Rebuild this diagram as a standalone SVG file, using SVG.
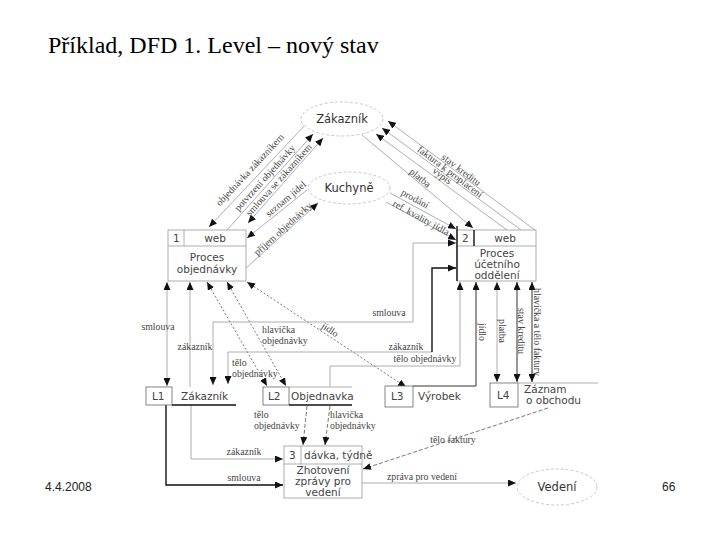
<svg xmlns="http://www.w3.org/2000/svg" width="720" height="540" viewBox="0 0 720 540">
<defs>
<marker id="ah" markerUnits="userSpaceOnUse" markerWidth="9" markerHeight="7" refX="8" refY="3.5" orient="auto-start-reverse"><path d="M0,0 L8,3.5 L0,7 z" fill="#111"/></marker>
<style>
.title{font-family:"Liberation Serif","Times New Roman",serif;font-size:24px;fill:#000}
.foot{font-family:"Liberation Sans",Arial,sans-serif;font-size:12px;fill:#222}
.nt{font-family:"DejaVu Sans",Verdana,sans-serif;font-size:10.5px;fill:#444}
.et{font-family:"DejaVu Sans",Verdana,sans-serif;font-size:11.5px;fill:#333;text-anchor:middle}
.lb{font-family:"Liberation Serif","Times New Roman",serif;font-size:9.8px;fill:#444}
.m{text-anchor:middle}
.ell{fill:#fff;stroke:#bbb;stroke-width:0.8;stroke-dasharray:3 2}
.box{fill:#fff;stroke:#999;stroke-width:0.8}
.sbox{fill:#fff;stroke:#666;stroke-width:0.8}
.g{fill:none;stroke:#999;stroke-width:0.8}
.d{fill:none;stroke:#333;stroke-width:1}
.k{fill:none;stroke:#111;stroke-width:1.4}
.dot{fill:none;stroke:#555;stroke-width:0.8;stroke-dasharray:2 2}
.dash{fill:none;stroke:#555;stroke-width:0.8;stroke-dasharray:4 2}
</style>
</defs>
<rect width="720" height="540" fill="#fff"/>
<text class="title" x="48" y="53">Příklad, DFD 1. Level – nový stav</text>
<text class="foot" x="45" y="491">4.4.2008</text>
<text class="foot" x="662" y="491">66</text>

<g id="connectors">
<path class="g" d="M307,123 L209,227" marker-end="url(#ah)"/>
<path class="g" d="M227,230 L313,134" marker-end="url(#ah)"/>
<path class="g" d="M248,223 L323,138" marker-start="url(#ah)" marker-end="url(#ah)"/>
<path class="g" d="M307,190 L247,238" marker-end="url(#ah)"/>
<path class="g" d="M246,268 L318,203" marker-end="url(#ah)"/>
<path class="g" d="M535,230 L388,121" marker-end="url(#ah)"/>
<path class="g" d="M521,230 L382,128" marker-end="url(#ah)"/>
<path class="g" d="M507,230 L376,134" marker-end="url(#ah)"/>
<path class="g" d="M362,135 L473,228" marker-end="url(#ah)"/>
<path class="g" d="M390,193 L456,229" marker-end="url(#ah)"/>
<path class="g" d="M386,202 L456,240" marker-end="url(#ah)"/>
<path class="g" d="M167,282 L167,386" marker-start="url(#ah)" marker-end="url(#ah)"/>
<path class="g" d="M190,387 L190,282" marker-end="url(#ah)"/>
<path class="dot" d="M207,282 L267,386" marker-start="url(#ah)" marker-end="url(#ah)"/>
<path class="dot" d="M227,282 L286,386" marker-start="url(#ah)" marker-end="url(#ah)"/>
<path class="dot" d="M247,282 L406,387" marker-start="url(#ah)" marker-end="url(#ah)"/>
<path class="g" d="M213,385 L213,322 L413,322 L413,243 L456,243" marker-start="url(#ah)" marker-end="url(#ah)"/>
<path class="g" d="M228,384 L228,352 L432,352" marker-start="url(#ah)"/>
<path class="k" d="M432,352 L432,268 L456,268" marker-end="url(#ah)"/>
<path class="g" d="M330,387 L330,366 L460,366 L460,282" marker-end="url(#ah)"/>
<path class="d" d="M413,386 L476,386 L476,282" marker-end="url(#ah)"/>
<path class="g" d="M497,282 L497,382" marker-start="url(#ah)" marker-end="url(#ah)"/>
<path class="d" d="M517,282 L517,382" marker-start="url(#ah)" marker-end="url(#ah)"/>
<path class="d" d="M532,282 L532,382" marker-start="url(#ah)" marker-end="url(#ah)"/>
<path class="dash" d="M548,408 L363,469" marker-end="url(#ah)"/>
<path class="g" d="M362,483 L516,483" marker-end="url(#ah)"/>
<path class="g" d="M191,405 L191,459 L283,459" marker-end="url(#ah)"/>
<path class="k" d="M166,405 L166,485 L283,485" marker-end="url(#ah)"/>
<path class="dash" d="M307,406 L303,445" marker-end="url(#ah)"/>
<path class="dash" d="M330,406 L325,445" marker-end="url(#ah)"/>
</g>

<g id="labels">
<text class="lb m" transform="translate(250,170) rotate(-47)" y="3">objednávka zákazníkem</text>
<text class="lb m" transform="translate(265,178) rotate(-48)" y="3">potvrzení objednávky</text>
<text class="lb m" transform="translate(279,180) rotate(-48)" y="3">smlouva se zákazníkem</text>
<text class="lb m" transform="translate(286,199) rotate(-40)" y="3">seznam jídel</text>
<text class="lb m" transform="translate(283,229) rotate(-42)" y="3">příjem objednávky</text>
<text class="lb m" transform="translate(461,170) rotate(37)" y="3">stav kreditu</text>
<text class="lb m" transform="translate(450,172) rotate(37)" y="3">faktura k proplacení</text>
<text class="lb m" transform="translate(442,176) rotate(37)" y="3">výpis</text>
<text class="lb m" transform="translate(420,178) rotate(39)" y="3">platba</text>
<text class="lb m" transform="translate(415,199) rotate(29)" y="3">prodání</text>
<text class="lb m" transform="translate(421,218) rotate(29)" y="3">ref. kvality jídla</text>
<text class="lb m" x="158" y="330">smlouva</text>
<text class="lb m" x="195" y="350">zákazník</text>
<text class="lb" x="262" y="333">hlavička</text>
<text class="lb" x="262" y="344">objednávky</text>
<text class="lb" x="232" y="366">tělo</text>
<text class="lb" x="232" y="377">objednávky</text>
<text class="lb m" transform="translate(330,330) rotate(33)" y="3">jídlo</text>
<text class="lb m" x="389" y="316">smlouva</text>
<text class="lb m" x="406" y="350">zákazník</text>
<text class="lb m" x="425" y="362">tělo objednávky</text>
<text class="lb m" transform="translate(482,332) rotate(90)" y="3">jídlo</text>
<text class="lb m" transform="translate(502,331) rotate(90)" y="3">platba</text>
<text class="lb m" transform="translate(521,331) rotate(90)" y="3">stav kreditu</text>
<text class="lb m" transform="translate(537,332) rotate(90)" y="3">hlavička a tělo faktury</text>
<text class="lb" x="254" y="418">tělo</text>
<text class="lb" x="254" y="429">objednávky</text>
<text class="lb" x="330" y="418">hlavička</text>
<text class="lb" x="330" y="429">objednávky</text>
<text class="lb m" x="244" y="455">zákazník</text>
<text class="lb m" x="244" y="481">smlouva</text>
<text class="lb m" x="453" y="443">tělo faktury</text>
<text class="lb m" x="422" y="480">zpráva pro vedení</text>
</g>

<g id="zakaznik">
<ellipse class="ell" cx="342" cy="119" rx="41" ry="17"/>
<text class="et" x="342" y="123">Zákazník</text>
</g>
<g id="kuchyne">
<ellipse class="ell" cx="349" cy="188" rx="41" ry="16"/>
<text class="et" x="349" y="192">Kuchyně</text>
</g>
<g id="vedeni">
<ellipse class="ell" cx="557" cy="487" rx="40" ry="18"/>
<text class="et" x="557" y="491">Vedení</text>
</g>

<g id="proces1">
<rect class="box" x="168" y="230" width="78" height="51"/>
<line class="g" x1="168" y1="246" x2="246" y2="246"/>
<line class="g" x1="184" y1="230" x2="184" y2="246"/>
<text class="nt" x="173" y="242">1</text>
<text class="nt m" x="215" y="242">web</text>
<text class="nt m" x="207" y="261">Proces</text>
<text class="nt m" x="207" y="273">objednávky</text>
</g>
<g id="proces2">
<rect class="box" x="457" y="230" width="79" height="51"/>
<line class="g" x1="457" y1="246" x2="536" y2="246"/>
<line class="k" x1="474" y1="230" x2="474" y2="246"/>
<line class="k" x1="457" y1="226" x2="457" y2="281"/>
<text class="nt" x="462" y="242">2</text>
<text class="nt m" x="505" y="242">web</text>
<text class="nt m" x="497" y="257">Proces</text>
<text class="nt m" x="497" y="268">účetního</text>
<text class="nt m" x="497" y="279">oddělení</text>
</g>
<g id="proces3">
<rect class="box" x="284" y="446" width="78" height="52"/>
<line class="g" x1="284" y1="464" x2="362" y2="464"/>
<line class="g" x1="301" y1="446" x2="301" y2="464"/>
<text class="nt" x="289" y="459">3</text>
<text class="nt" x="304" y="459">dávka, týdně</text>
<text class="nt m" x="323" y="474">Zhotovení</text>
<text class="nt m" x="323" y="485">zprávy pro</text>
<text class="nt m" x="323" y="496">vedení</text>
</g>

<g id="L1">
<rect class="sbox" x="146" y="387" width="26" height="18"/>
<line class="k" x1="172" y1="405" x2="236" y2="405"/>
<text class="nt" x="152" y="400">L1</text>
<text class="nt" x="181" y="400">Zákazník</text>
</g>
<g id="L2">
<rect class="sbox" x="263" y="387" width="26" height="18"/>
<line class="g" x1="289" y1="387" x2="352" y2="387"/>
<line class="k" x1="289" y1="405" x2="352" y2="405"/>
<text class="nt" x="268" y="400">L2</text>
<text class="nt" x="291" y="400">Objednavka</text>
</g>
<g id="L3">
<rect class="sbox" x="385" y="386" width="28" height="21"/>
<text class="nt" x="391" y="400">L3</text>
<text class="nt" x="418" y="400">Výrobek</text>
</g>
<g id="L4">
<rect class="sbox" x="490" y="383" width="28" height="24"/>
<line class="g" x1="518" y1="383" x2="598" y2="383"/>
<text class="nt" x="497" y="399">L4</text>
<text class="nt" x="524" y="393">Záznam</text>
<text class="nt" x="526" y="404">o obchodu</text>
</g>
</svg>
